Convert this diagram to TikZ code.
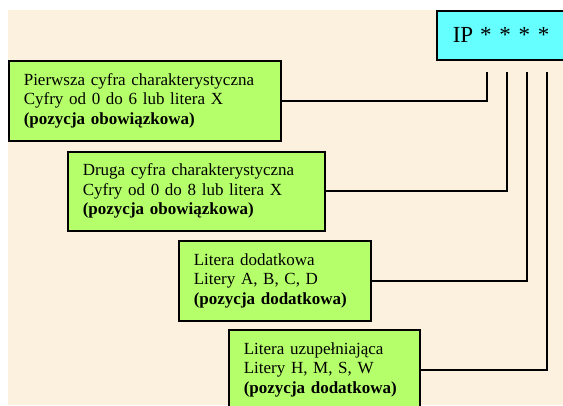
\documentclass[tikz,border=0pt]{standalone}
\usepackage{fontspec}
\setmainfont{Liberation Serif}
\definecolor{parch}{HTML}{FCF1DE}
\definecolor{boxgreen}{HTML}{B5FF6A}
\definecolor{ipcyan}{HTML}{66FFFF}
\begin{document}
\begin{tikzpicture}[x=1pt,y=-1pt,
  infobox/.style={draw=black, line width=1.6pt, fill=boxgreen, anchor=north west,
    align=left, inner xsep=15pt, inner ysep=0pt,
    font=\fontsize{17}{19.5}\selectfont},
  ipbox/.style={draw=black, line width=1.6pt, fill=ipcyan, anchor=north west,
    minimum width=130pt, minimum height=49pt, align=left, text width=98pt,
    inner xsep=16pt, font=\fontsize{23}{26}\selectfont},
  link/.style={draw=black, line width=2.2pt}]
\useasboundingbox (0,0) rectangle (563,405);
\fill[white] (0,0) rectangle (563,405);
\fill[parch] (8,10) rectangle (563,405);

\node[ipbox] (ip) at (436,10) {IP\hspace{7pt}*\hspace{7.7pt}*\hspace{7.7pt}*\hspace{7.7pt}*};

\node[infobox, minimum width=272pt, minimum height=80pt, text width=242pt] (b1) at (8,60)
  {Pierwsza cyfra charakterystyczna\\Cyfry od 0 do 6 lub litera X\\\textbf{(pozycja obowiązkowa)}};
\node[infobox, minimum width=257pt, minimum height=79pt, text width=227pt] (b2) at (67,151)
  {Druga cyfra charakterystyczna\\Cyfry od 0 do 8 lub litera X\\\textbf{(pozycja obowiązkowa)}};
\node[infobox, minimum width=192pt, minimum height=80pt, text width=162pt] (b3) at (178,240)
  {Litera dodatkowa\\Litery A, B, C, D\\\textbf{(pozycja dodatkowa)}};
\node[infobox, minimum width=191pt, minimum height=80pt, text width=161pt] (b4) at (228,329)
  {Litera uzupełniająca\\Litery H, M, S, W\\\textbf{(pozycja dodatkowa)}};

\coordinate (t1) at (487,72);
\coordinate (t2) at (507,72);
\coordinate (t3) at (527,72);
\coordinate (t4) at (547,72);

\draw[link] (b1.east) -| (t1);
\draw[link] (b2.east) -| (t2);
\draw[link] (b3.east) -| (t3);
\draw[link] (b4.east) -| (t4);
\end{tikzpicture}
\end{document}
